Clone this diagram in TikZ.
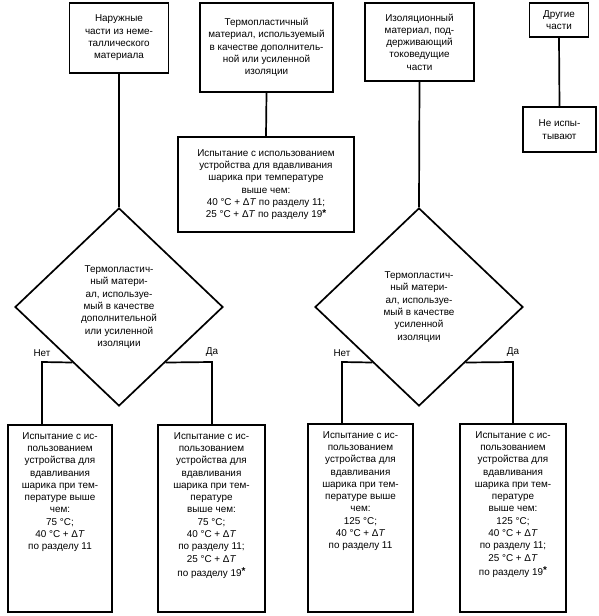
\documentclass[tikz,border=0pt]{standalone}
\usepackage{fontspec}
\setmainfont{Liberation Sans}
\usetikzlibrary{shapes.geometric,calc}
\newcommand{\dT}{Δ\textit{T}}
\newcommand{\fnast}{\raisebox{1.5pt}{\textbf{*}}}
\begin{document}
\begin{tikzpicture}[x=1pt,y=-1pt,
  every node/.style={font=\fontsize{9.9}{12.3}\selectfont},
  box/.style={draw,line width=1.7pt,rectangle,inner sep=0pt,align=center},
  dia/.style={draw,line width=1.7pt,diamond,inner sep=0pt,minimum width=208pt,minimum height=198pt,align=center},
  conn/.style={line width=1.7pt},
  txt/.style={align=center,inner sep=0pt,anchor=north},
  lbl/.style={inner sep=0pt,anchor=south}]
\useasboundingbox (0,0) rectangle (598,616);

% top boxes
\node[box,minimum width=99pt,minimum height=70pt] (b1) at (119,38)
  {Наружные\\части из неме-\\таллического\\материала};
\node[box,minimum width=133pt,minimum height=89pt] (b2) at (266.5,47.5)
  {Термопластичный\\материал, используемый\\в качестве дополнитель-\\ной или усиленной\\изоляции};
\node[box,minimum width=176pt,minimum height=95pt] (b3) at (266,184.5)
  {Испытание с использованием\\устройства для вдавливания\\шарика при температуре\\выше чем:\\40 °C + \dT{} по разделу 11;\\25 °C + \dT{} по разделу 19\fnast};
\node[box,minimum width=109pt,minimum height=78pt] (b4) at (419.5,42)
  {Изоляционный\\материал, под-\\держивающий\\токоведущие\\части};
\node[box,minimum width=59pt,minimum height=34pt] (b5) at (559,20)
  {Другие\\части};
\node[box,minimum width=73pt,minimum height=45pt] (b6) at (559.5,129.5)
  {Не испы-\\тывают};

% diamonds
\node[dia] (d1) at (119,307)
  {Термопластич-\\ный матери-\\ал, используе-\\мый в качестве\\дополнительной\\или усиленной\\изоляции};
\node[dia] (d2) at (419,307)
  {Термопластич-\\ный матери-\\ал, используе-\\мый в качестве\\усиленной\\изоляции};

% bottom boxes
\node[box,minimum width=104pt,minimum height=187pt] (ba) at (60,518.5) {};
\node[box,minimum width=107pt,minimum height=187pt] (bb) at (211.5,518.5) {};
\node[box,minimum width=105pt,minimum height=188pt] (bc) at (360.5,518) {};
\node[box,minimum width=106pt,minimum height=188pt] (bd) at (513,518) {};

\node[txt] (ta) at ($(ba.north)+(0,8)$)
  {Испытание с ис-\\пользованием\\устройства для\\вдавливания\\шарика при тем-\\пературе выше\\чем:\\75 °C;\\40 °C + \dT\\по разделу 11};
\node[txt] (tb) at ($(bb.north)+(0,8)$)
  {Испытание с ис-\\пользованием\\устройства для\\вдавливания\\шарика при тем-\\пературе\\выше чем:\\75 °C;\\40 °C + \dT\\по разделу 11;\\25 °C + \dT\\[2pt]по разделу 19\fnast};
\node[txt] (tc) at ($(bc.north)+(0,8)$)
  {Испытание с ис-\\пользованием\\устройства для\\вдавливания\\шарика при тем-\\пературе выше\\чем:\\125 °C;\\40 °C + \dT\\по разделу 11};
\node[txt] (td) at ($(bd.north)+(0,8)$)
  {Испытание с ис-\\пользованием\\устройства для\\вдавливания\\шарика при тем-\\пературе\\выше чем:\\125 °C;\\40 °C + \dT\\по разделу 11;\\25 °C + \dT\\[2pt]по разделу 19\fnast};

% connectors
\draw[conn] (b1.south) -- (d1.north);
\draw[conn] (b2.south) -- (b3.north);
\draw[conn] (b4.south) -- (d2.north);
\draw[conn] (b5.south) -- (b6.north);

\coordinate (n1) at (42,362);
\coordinate (y1) at (212,362);
\coordinate (n2) at (342,362);
\coordinate (y2) at (513,362);

\draw[conn] ($(d1.west)!0.556!(d1.south)$) -- (n1) -- (n1 |- ba.north);
\draw[conn] ($(d1.east)!0.556!(d1.south)$) -- (y1) -- (y1 |- bb.north);
\draw[conn] ($(d2.west)!0.556!(d2.south)$) -- (n2) -- (n2 |- bc.north);
\draw[conn] ($(d2.east)!0.556!(d2.south)$) -- (y2) -- (y2 |- bd.north);

\node[lbl] (ln1) at ($(n1)+(0,-5)$) {Нет};
\node[lbl] (ly1) at ($(y1)+(0,-5)$) {Да};
\node[lbl] (ln2) at ($(n2)+(0,-5)$) {Нет};
\node[lbl] (ly2) at ($(y2)+(0,-5)$) {Да};
\end{tikzpicture}
\end{document}
